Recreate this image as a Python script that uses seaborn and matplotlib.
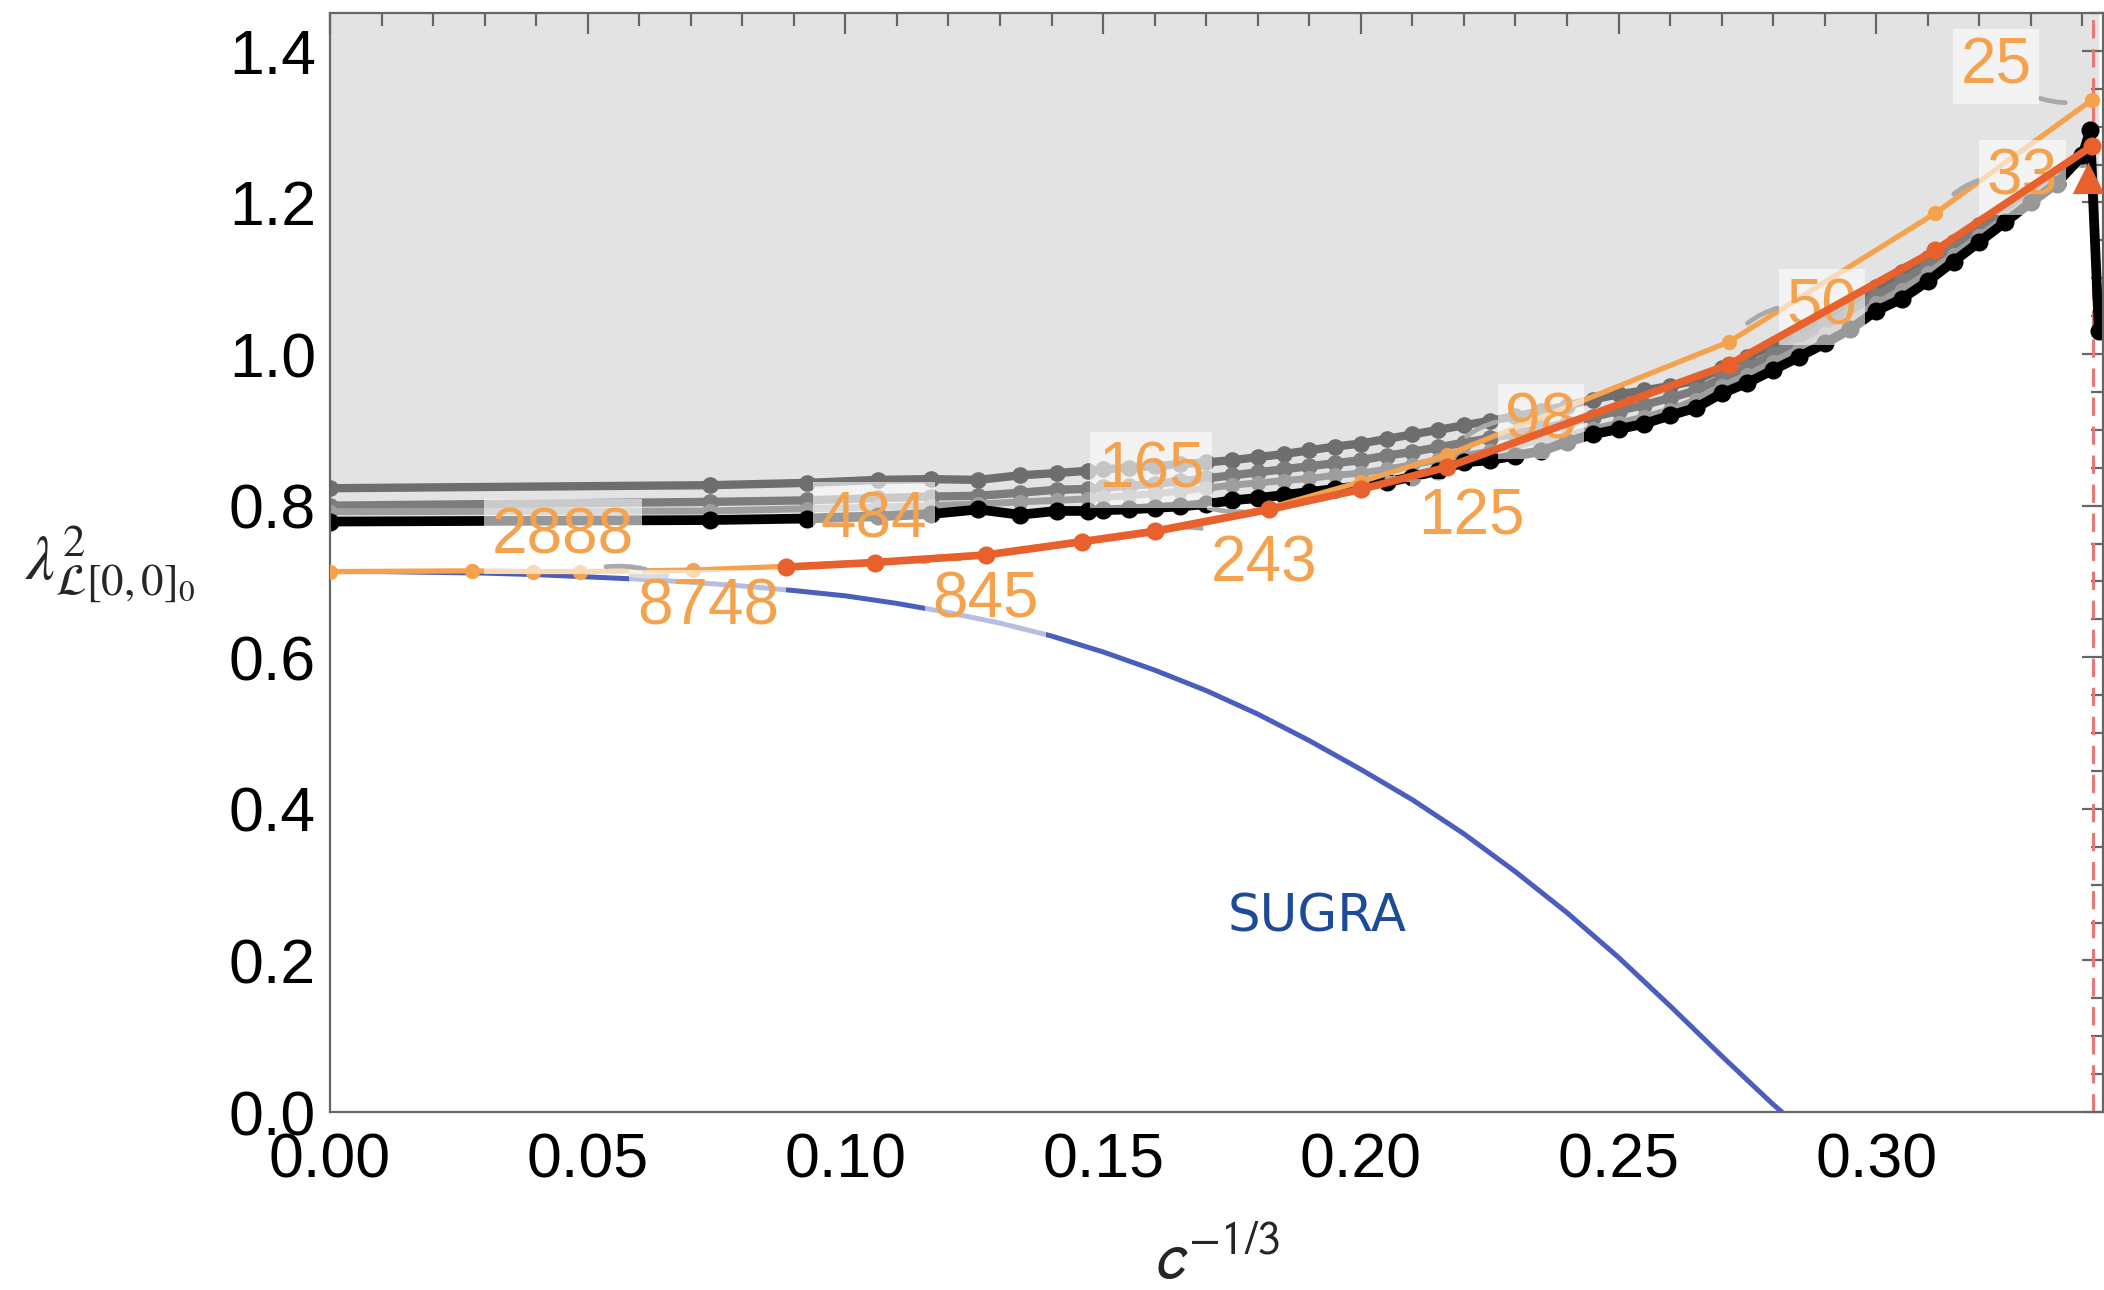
import matplotlib
matplotlib.use("Agg")
import matplotlib.pyplot as plt
import seaborn as sns
import pandas as pd
from matplotlib.ticker import MultipleLocator, FormatStrFormatter

# ---------------- data ----------------
sparse_x = [0.0, 0.0737, 0.0925, 0.1063, 0.1167, 0.1258, 0.1338, 0.1410, 0.1470]
dense_x = [0.150, 0.155, 0.160, 0.165, 0.170, 0.175, 0.180, 0.185, 0.190, 0.195,
           0.200, 0.205, 0.210, 0.215, 0.220, 0.225, 0.230, 0.235, 0.240, 0.245,
           0.250, 0.255, 0.260, 0.265, 0.270, 0.275, 0.280, 0.285, 0.290, 0.295,
           0.300, 0.305, 0.310, 0.315, 0.320, 0.325, 0.330, 0.335, 0.340]

g1_sparse = [0.823, 0.827, 0.830, 0.834, 0.835, 0.834, 0.840, 0.843, 0.846]
g1_dense = [0.848, 0.850, 0.852, 0.855, 0.857, 0.860, 0.864, 0.868, 0.873, 0.878,
            0.882, 0.888, 0.894, 0.900, 0.906, 0.912, 0.918, 0.925, 0.932, 0.940,
            0.947, 0.952, 0.958, 0.965, 0.981, 0.996, 1.012, 1.030, 1.048, 1.068,
            1.088, 1.108, 1.127, 1.148, 1.170, 1.192, 1.215, 1.238, 1.262]

g2_sparse = [0.800, 0.805, 0.807, 0.810, 0.812, 0.813, 0.817, 0.821, 0.822]
g2_dense = [0.824, 0.826, 0.829, 0.832, 0.836, 0.840, 0.844, 0.848, 0.852, 0.856,
            0.860, 0.866, 0.871, 0.877, 0.883, 0.889, 0.895, 0.902, 0.909, 0.917,
            0.925, 0.933, 0.942, 0.952, 0.968, 0.983, 1.000, 1.018, 1.037, 1.056,
            1.077, 1.096, 1.117, 1.140, 1.162, 1.186, 1.209, 1.233, 1.259]

g3_sparse = [0.792, 0.793, 0.796, 0.798, 0.800, 0.802, 0.805, 0.807, 0.809]
g3_dense = [0.811, 0.813, 0.816, 0.819, 0.823, 0.827, 0.830, 0.833, 0.836, 0.840,
            0.843, 0.848, 0.854, 0.860, 0.866, 0.872, 0.879, 0.886, 0.893, 0.901,
            0.909, 0.917, 0.926, 0.940, 0.958, 0.972, 0.990, 1.007, 1.026, 1.045,
            1.067, 1.085, 1.107, 1.131, 1.156, 1.180, 1.205, 1.229, 1.256]

black_sparse = [0.779, 0.781, 0.783, 0.786, 0.789, 0.795, 0.788, 0.793, 0.793]
black_dense = [0.794, 0.795, 0.797, 0.799, 0.802, 0.807, 0.810, 0.814, 0.818, 0.822,
               0.826, 0.831, 0.838, 0.846, 0.857, 0.860, 0.866, 0.872, 0.884, 0.894,
               0.901, 0.908, 0.919, 0.929, 0.948, 0.962, 0.979, 0.996, 1.014, 1.033,
               1.057, 1.073, 1.096, 1.122, 1.148, 1.174, 1.200, 1.225, 1.262]
black_end_x = [0.3415, 0.3432]
black_end_y = [1.295, 1.030]

# light orange series
lo_x = [0.0, 0.0275, 0.0394, 0.0485, 0.0704, 0.0885, 0.1057, 0.1273, 0.1460, 0.1600,
        0.1822, 0.2000, 0.2168, 0.2714, 0.3115, 0.3418]
lo_y = [0.713, 0.714, 0.713, 0.713, 0.715, 0.720, 0.726, 0.736, 0.754, 0.768,
        0.797, 0.8315, 0.867, 1.016, 1.186, 1.335]

# red-orange series
red_x = [0.0885, 0.1057, 0.1273, 0.1460, 0.1600, 0.1822, 0.2000, 0.2168, 0.2714, 0.3115, 0.3418]
red_y = [0.719, 0.725, 0.735, 0.7525, 0.766, 0.795, 0.8215, 0.851, 0.986, 1.137, 1.274]

# SUGRA curve
sugra_x = [0.00, 0.01, 0.02, 0.03, 0.04, 0.05, 0.06, 0.07, 0.08, 0.09,
           0.10, 0.11, 0.12, 0.13, 0.14, 0.15, 0.16, 0.17, 0.18, 0.19,
           0.20, 0.21, 0.22, 0.23, 0.24, 0.25, 0.26, 0.27, 0.28, 0.2817]
sugra_y = [0.713, 0.713, 0.712, 0.711, 0.709, 0.706, 0.703, 0.699, 0.694, 0.688,
           0.681, 0.671, 0.659, 0.645, 0.628, 0.607, 0.583, 0.556, 0.525, 0.490,
           0.452, 0.412, 0.367, 0.317, 0.263, 0.204, 0.140, 0.074, 0.010, 0.0]

triangle_x = [0.3412]
triangle_y = [1.232]
bound_x = 0.3420  # c = 25

# callout labels (central charge c)
label_text = ["25", "33", "50", "98", "165", "484", "2888", "8748", "845", "243", "125"]
label_series = ["lo", "lo", "lo", "lo", "lo", "red", "lo", "lo", "red", "red", "lo"]
label_index = [15, 14, 13, 12, 10, 2, 4, 3, 1, 4, 11]
# layout: text centres
label_pos = [(0.3232, 1.379), (0.3284, 1.233), (0.2895, 1.062), (0.2349, 0.911),
             (0.1593, 0.847), (0.1055, 0.781), (0.0452, 0.759), (0.0733, 0.666),
             (0.1272, 0.675), (0.1813, 0.723), (0.2214, 0.785)]

xticks = [0.00, 0.05, 0.10, 0.15, 0.20, 0.25, 0.30]
yticks = [0.0, 0.2, 0.4, 0.6, 0.8, 1.0, 1.2, 1.4]

# ---------------- style ----------------
sns.set_theme(style="white")
plt.rcParams["font.family"] = ["Liberation Sans", "DejaVu Sans"]
plt.rcParams["axes.unicode_minus"] = True

GRAY_BG = "#E3E3E3"
LO_COL = "#F5A24E"
RED_COL = "#E8612C"
BLUE_COL = "#4A5EBE"

fig = plt.figure(figsize=(21.04, 12.90), dpi=100)
ax = fig.add_axes([330 / 2104, 1 - 1112 / 1290, (2103 - 330) / 2104, (1112 - 13) / 1290])
ax.set_xlim(0, 0.344)
ax.set_ylim(0, 1.45)

bx = sparse_x + dense_x + black_end_x
by = black_sparse + black_dense + black_end_y
ax.fill_between(bx, by, 1.45, color=GRAY_BG, lw=0, zorder=0)

ax.axvline(bound_x, color="#E87878", lw=2.2, ls=(0, (6, 3.5)), zorder=1.5)


def series(x, y, color, lw, ms, z, marker="o"):
    df = pd.DataFrame({"x": x, "y": y})
    sns.lineplot(data=df, x="x", y="y", ax=ax, color=color, lw=lw, marker=marker,
                 markersize=ms, markeredgewidth=0, sort=False, estimator=None, zorder=z)


series(sparse_x + dense_x, g1_sparse + g1_dense, "#6E6E6E", 6, 12, 2)
series(sparse_x + dense_x, g2_sparse + g2_dense, "#7C7C7C", 6, 12, 2.1)
series(sparse_x + dense_x, g3_sparse + g3_dense, "#9E9E9E", 5, 11, 2.2)
series(bx, by, "#000000", 7, 13, 2.3)
series(sugra_x, sugra_y, BLUE_COL, 3.6, 0, 2.5, marker=None)
series(lo_x, lo_y, LO_COL, 3.8, 11, 3)
series(red_x, red_y, RED_COL, 5.5, 13, 5)

sns.scatterplot(x=triangle_x, y=triangle_y, ax=ax, marker="^", s=520, color=RED_COL,
                edgecolor="none", zorder=7)

# callouts
for txt, ser, idx, pos in zip(label_text, label_series, label_index, label_pos):
    if ser == "lo":
        pt = (lo_x[idx], lo_y[idx])
    else:
        pt = (red_x[idx], red_y[idx])
    ax.annotate(txt, xy=pt, xytext=pos, textcoords="data", ha="center", va="center",
                fontsize=46, color=LO_COL, zorder=4,
                bbox=dict(boxstyle="square,pad=0.12", fc="white", ec="none", alpha=0.6),
                arrowprops=dict(arrowstyle="-", color="#A9A9A9", lw=3.4,
                                shrinkA=1, shrinkB=19,
                                connectionstyle="arc3,rad=0.3"))

ax.text(0.1915, 0.257, "SUGRA", color="#1D4B9A", fontsize=37, family="DejaVu Sans",
        ha="center", va="center", zorder=6)

# axes / ticks
ax.xaxis.set_major_locator(MultipleLocator(0.05))
ax.xaxis.set_minor_locator(MultipleLocator(0.01))
ax.yaxis.set_major_locator(MultipleLocator(0.2))
ax.yaxis.set_minor_locator(MultipleLocator(0.05))
ax.set_xticks(xticks)
ax.set_yticks(yticks)
ax.xaxis.set_major_formatter(FormatStrFormatter("%.2f"))
ax.yaxis.set_major_formatter(FormatStrFormatter("%.1f"))
ax.tick_params(which="both", direction="in", top=True, right=True, color="#666666",
               width=1.6, labelsize=45, labelcolor="black")
ax.tick_params(which="major", length=15)
ax.tick_params(axis="x", which="major", pad=14)
ax.tick_params(axis="y", which="major", pad=10)
ax.tick_params(which="minor", length=9)
for s in ax.spines.values():
    s.set_color("#666666")
    s.set_linewidth(1.6)

ax.set_xlabel(r"$c^{-1/3}$", fontsize=48, math_fontfamily="stixsans", labelpad=28)
ax.set_ylabel("")
fig.text(110 / 2104, 1 - 565 / 1290, r"$\lambda^2_{\mathcal{L}[0,0]_0}$", fontsize=46,
         math_fontfamily="stix", ha="center", va="center")

fig.savefig("out.png", dpi=100)
